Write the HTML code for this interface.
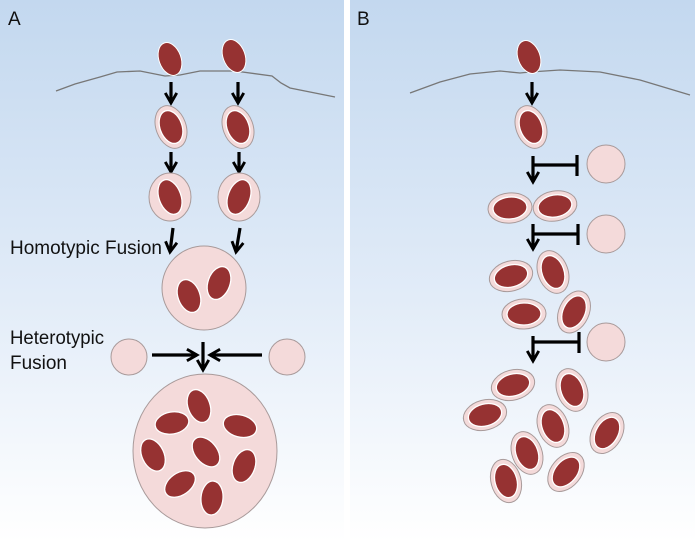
<!DOCTYPE html>
<html><head><meta charset="utf-8"><style>
html,body{margin:0;padding:0;background:#fff}
svg{display:block}
text{font-family:"Liberation Sans",sans-serif;font-size:19px;fill:#111}
</style></head><body>
<svg width="695" height="542" viewBox="0 0 695 542" xmlns="http://www.w3.org/2000/svg">
<defs>
<linearGradient id="bg" x1="0" y1="0" x2="0" y2="1">
<stop offset="0" stop-color="#c3d8ef"/><stop offset="0.55" stop-color="#e2ecf8"/><stop offset="1" stop-color="#ffffff"/>
</linearGradient>
<marker id="ah" viewBox="0 0 10 10" refX="8" refY="5" markerWidth="4.5" markerHeight="4.5" orient="auto">
<path d="M1,1 L8,5 L1,9" fill="none" stroke="#000" stroke-width="2"/>
</marker>
<g id="ves"><ellipse rx="15" ry="22" fill="#f4dada" stroke="#a89a9a" stroke-width="1"/><ellipse rx="11" ry="17" fill="#963232" stroke="#fff" stroke-width="1.3"/></g>
<g id="nuc"><ellipse rx="11" ry="17" fill="#963232" stroke="#fff" stroke-width="1.3"/></g>
</defs>
<rect x="0" y="0" width="344" height="542" fill="url(#bg)"/>
<rect x="350" y="0" width="345" height="542" fill="url(#bg)"/>
<!-- Panel A -->
<text x="8" y="25" style="font-size:19px">A</text>
<path d="M56,91 L75,84 L100,77 L117,72 L140,71 L165,76 L180,75 L200,71 L235,71 L272,76 L281,83 L290,88 L335,97" fill="none" stroke="#777" stroke-width="1.3"/>
<g transform="translate(170,59) rotate(-20)"><ellipse rx="11" ry="17" fill="#963232" stroke="#fff" stroke-width="1"/></g>
<g transform="translate(234,56) rotate(-20)"><ellipse rx="11" ry="17" fill="#963232" stroke="#fff" stroke-width="1"/></g>
<g stroke="#000" stroke-width="3.2" fill="none" marker-end="url(#ah)">
<line x1="171" y1="82" x2="171" y2="103"/><line x1="238" y1="82" x2="238" y2="103"/>
<line x1="171" y1="152" x2="171" y2="172"/><line x1="239" y1="152" x2="239" y2="172"/>
<line x1="173" y1="228" x2="170" y2="252"/><line x1="240" y1="228" x2="236" y2="252"/>
<line x1="152" y1="355" x2="197" y2="355"/><line x1="262" y1="355" x2="210" y2="355"/>
<line x1="203" y1="342" x2="203" y2="370"/>
</g>
<g transform="translate(171,127) rotate(-20)"><use href="#ves"/></g>
<g transform="translate(238,127) rotate(-20)"><use href="#ves"/></g>
<g transform="translate(170,197)"><ellipse rx="21" ry="24" fill="#f4dada" stroke="#a89a9a"/><ellipse transform="rotate(-20)" rx="11" ry="18" fill="#963232" stroke="#fff" stroke-width="1.3"/></g>
<g transform="translate(239,197)"><ellipse rx="21" ry="24" fill="#f4dada" stroke="#a89a9a"/><ellipse transform="rotate(20)" rx="11" ry="18" fill="#963232" stroke="#fff" stroke-width="1.3"/></g>
<text x="10" y="254" textLength="152" lengthAdjust="spacingAndGlyphs">Homotypic Fusion</text>
<circle cx="204" cy="288" r="42" fill="#f4dada" stroke="#a89a9a"/>
<g transform="translate(189,296) rotate(-20)"><use href="#nuc"/></g>
<g transform="translate(219,283) rotate(20)"><use href="#nuc"/></g>
<text x="10" y="344" textLength="94" lengthAdjust="spacingAndGlyphs">Heterotypic</text>
<text x="10" y="369" textLength="57" lengthAdjust="spacingAndGlyphs">Fusion</text>
<circle cx="129" cy="357" r="18" fill="#f4dada" stroke="#a89a9a"/>
<circle cx="287" cy="357" r="18" fill="#f4dada" stroke="#a89a9a"/>
<ellipse cx="205" cy="451" rx="72" ry="77" fill="#f4dada" stroke="#a89a9a"/>
<g transform="translate(199,406) rotate(-20)"><use href="#nuc"/></g>
<g transform="translate(172,423) rotate(80)"><use href="#nuc"/></g>
<g transform="translate(240,426) rotate(-75)"><use href="#nuc"/></g>
<g transform="translate(153,455) rotate(-25)"><use href="#nuc"/></g>
<g transform="translate(206,452) rotate(-40)"><use href="#nuc"/></g>
<g transform="translate(244,466) rotate(20)"><use href="#nuc"/></g>
<g transform="translate(180,484) rotate(55)"><use href="#nuc"/></g>
<g transform="translate(212,498) rotate(5)"><use href="#nuc"/></g>
<!-- Panel B -->
<text x="357" y="25" style="font-size:19px">B</text>
<path d="M410,93 L440,82 L470,74 L500,71 L520,73 L530,72 L560,70 L600,72 L640,80 L690,95" fill="none" stroke="#777" stroke-width="1.3"/>
<g transform="translate(529,57) rotate(-20)"><ellipse rx="11" ry="17" fill="#963232" stroke="#fff" stroke-width="1"/></g>
<g stroke="#000" stroke-width="3.2" fill="none" marker-end="url(#ah)">
<line x1="532" y1="82" x2="532" y2="103"/>
<line x1="533" y1="156" x2="533" y2="182"/>
<line x1="533" y1="224" x2="533" y2="249"/>
<line x1="533" y1="336" x2="533" y2="361"/>
</g>
<g stroke="#000" stroke-width="3.2" fill="none">
<line x1="533" y1="165" x2="577" y2="165"/><line x1="577" y1="155" x2="577" y2="176"/>
<line x1="533" y1="234" x2="578" y2="234"/><line x1="578" y1="224" x2="578" y2="245"/>
<line x1="533" y1="342" x2="579" y2="342"/><line x1="579" y1="332" x2="579" y2="353"/>
</g>
<circle cx="606" cy="164" r="19" fill="#f4dada" stroke="#a89a9a"/>
<circle cx="606" cy="234" r="19" fill="#f4dada" stroke="#a89a9a"/>
<circle cx="606" cy="342" r="19" fill="#f4dada" stroke="#a89a9a"/>
<g transform="translate(531,127) rotate(-20)"><use href="#ves"/></g>
<g transform="translate(510,208) rotate(85)"><use href="#ves"/></g>
<g transform="translate(555,206) rotate(80)"><use href="#ves"/></g>
<g transform="translate(511,276) rotate(75)"><use href="#ves"/></g>
<g transform="translate(553,272) rotate(-20)"><use href="#ves"/></g>
<g transform="translate(524,314) rotate(88)"><use href="#ves"/></g>
<g transform="translate(574,312) rotate(25)"><use href="#ves"/></g>
<g transform="translate(513,385) rotate(75)"><use href="#ves"/></g>
<g transform="translate(572,390) rotate(-20)"><use href="#ves"/></g>
<g transform="translate(485,415) rotate(75)"><use href="#ves"/></g>
<g transform="translate(553,426) rotate(-20)"><use href="#ves"/></g>
<g transform="translate(527,453) rotate(-20)"><use href="#ves"/></g>
<g transform="translate(607,433) rotate(30)"><use href="#ves"/></g>
<g transform="translate(506,481) rotate(-15)"><use href="#ves"/></g>
<g transform="translate(566,472) rotate(40)"><use href="#ves"/></g>
</svg>
</body></html>
